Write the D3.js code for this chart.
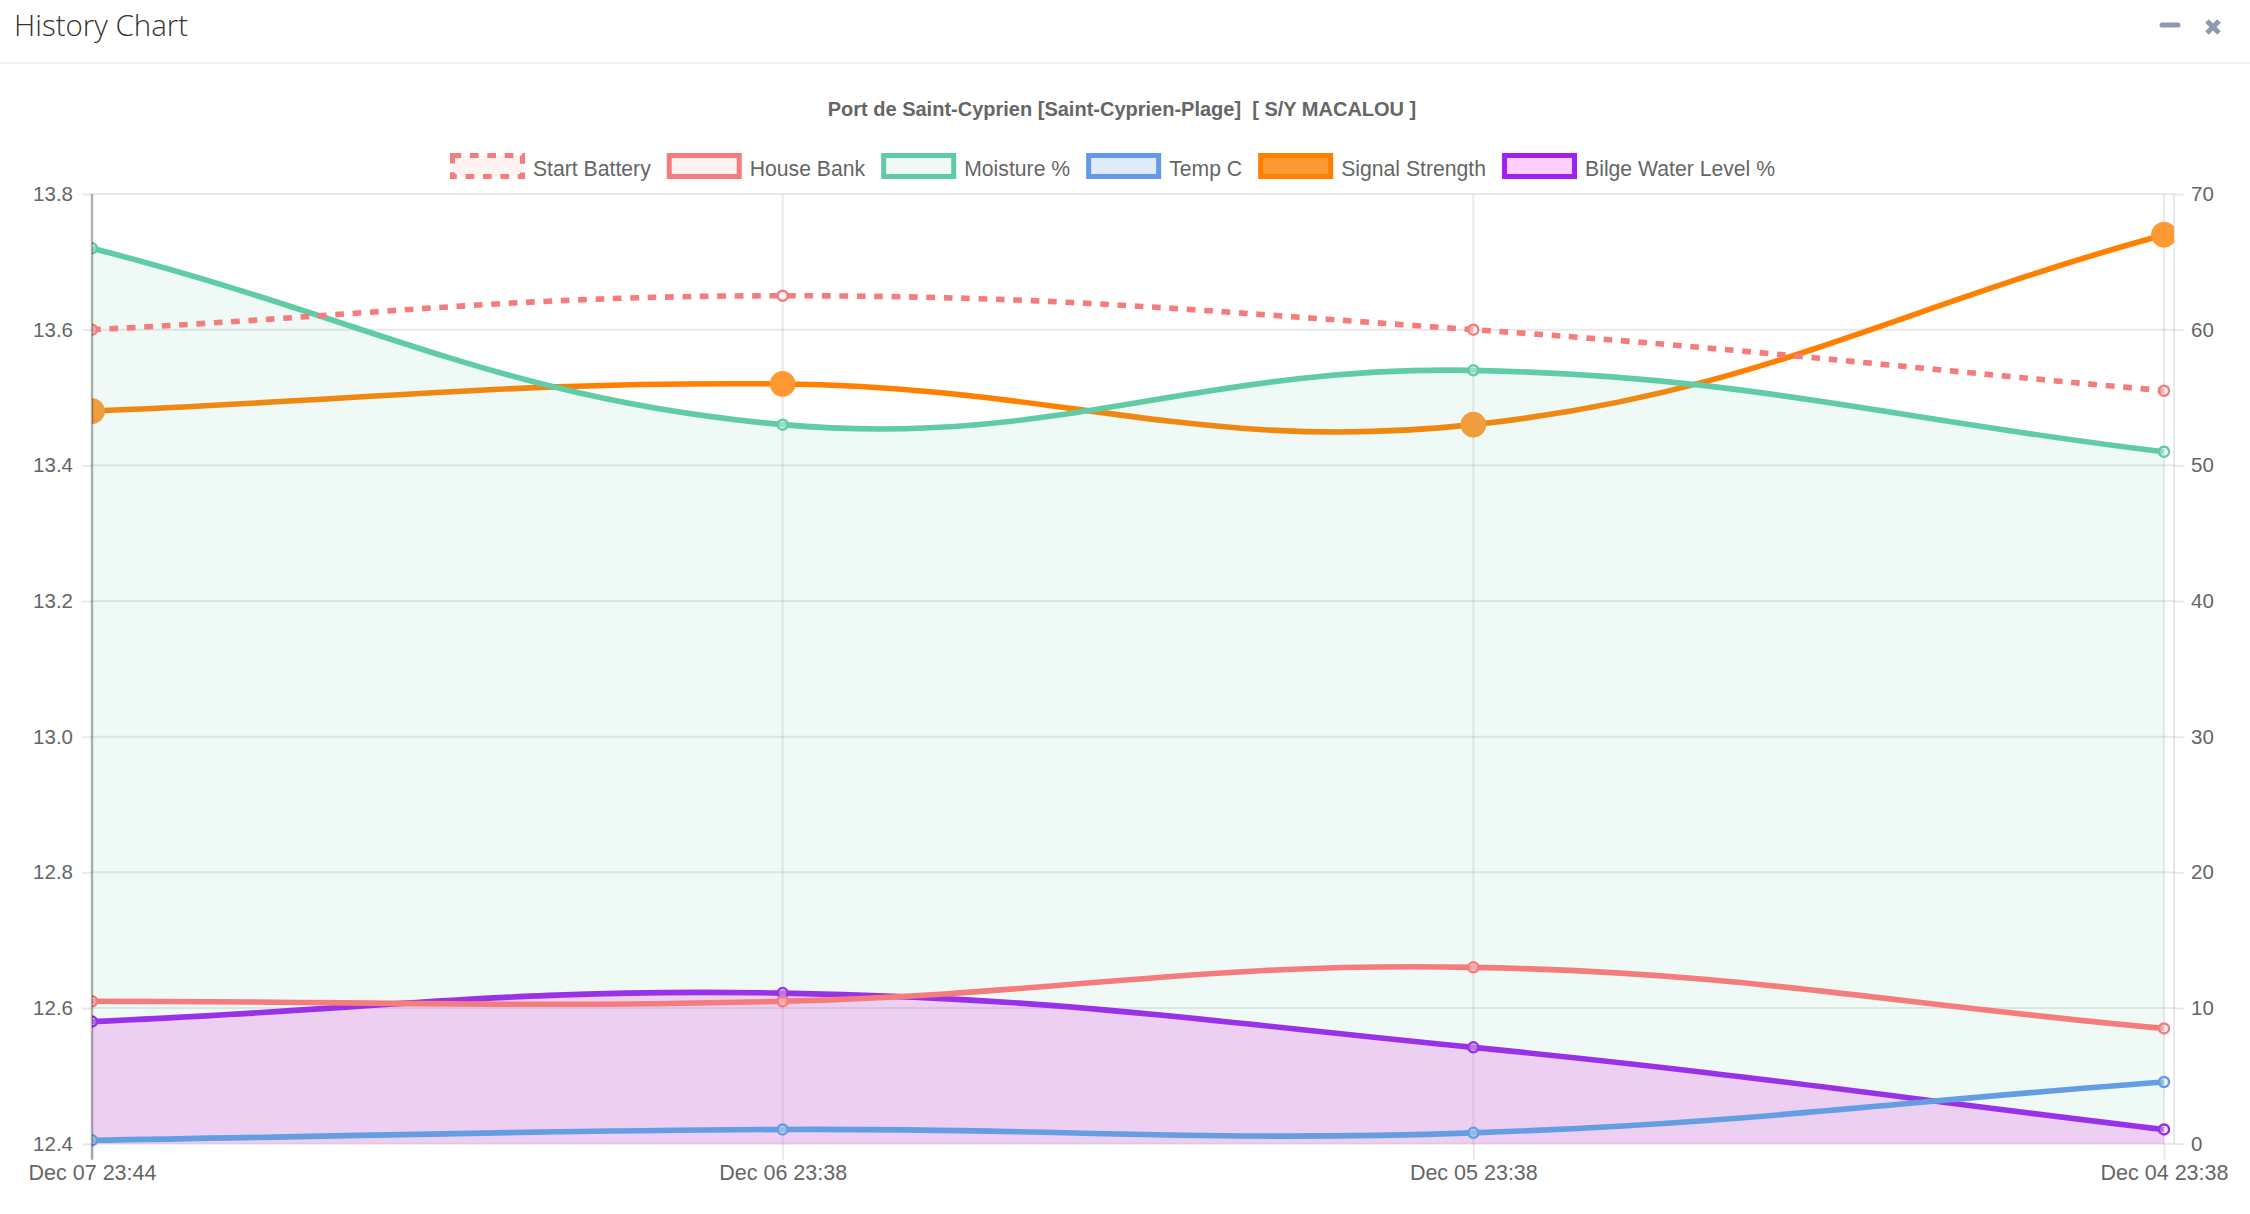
<!DOCTYPE html>
<html>
<head>
<meta charset="utf-8">
<title>History Chart</title>
<script src="https://cdnjs.cloudflare.com/ajax/libs/d3/7.8.5/d3.min.js"></script>
<style>
    html, body { margin: 0; padding: 0; background: #fff; }
    svg { display: block; }
    text { font-family: "Liberation Sans", Arial, sans-serif; fill: #666; }
    .caption { font-family: "Open Sans", sans-serif; font-weight: 300; fill: #333; font-size: 29.5px; }
    .title { font-size: 20px; font-weight: bold; white-space: pre; }
    .legend-label { font-size: 21.2px; }
    .tic text { font-size: 20.5px; }
    .xtic text { font-size: 21.5px; }
    .tic line, .grid-line { stroke: #000; stroke-opacity: 0.085; stroke-width: 2; }
</style>
</head>
<body>
<div id="chart"></div>
<script>
/* Data ************************************************************************/

var dates = ['Dec 07 23:44', 'Dec 06 23:38', 'Dec 05 23:38', 'Dec 04 23:38'];

// left axis
var startBattery = [13.6, 13.65, 13.6, 13.51],
    houseBank = [12.61, 12.61, 12.66, 12.57];

// right axis
var moisture = [66, 53, 57, 51],
    tempC = [0.25, 1.05, 0.8, 4.55],
    signalStrength = [54, 56, 53, 67],
    bilgeWater = [9, 11.1, 7.1, 1.05];

var leftTics = [12.4, 12.6, 12.8, 13.0, 13.2, 13.4, 13.6, 13.8],
    rightTics = [0, 10, 20, 30, 40, 50, 60, 70];

var series = [
    { name: 'Start Battery', values: startBattery, axis: 'left', color: '#f47c7c',
      swatch: 'rgba(244,124,124,0.1)', dash: '8.7 8.7', r: 5 },
    { name: 'House Bank', values: houseBank, axis: 'left', color: '#f47c7c',
      swatch: 'rgba(244,124,124,0.1)', r: 5 },
    { name: 'Moisture %', values: moisture, axis: 'right', color: '#5fcca5',
      swatch: 'rgba(95,204,165,0.1)', area: 'rgba(95,204,165,0.1)', r: 5 },
    { name: 'Temp C', values: tempC, axis: 'right', color: '#6299e8',
      swatch: 'rgba(98,153,232,0.2)', r: 5 },
    { name: 'Signal Strength', values: signalStrength, axis: 'right', color: '#ff8000',
      swatch: '#ff9933', marker: '#ff9933', r: 12.5 },
    { name: 'Bilge Water Level %', values: bilgeWater, axis: 'right', color: '#a020f0',
      swatch: '#ffd0ff', area: 'rgba(240,50,235,0.23)', r: 5 }
];

/* Functions *******************************************************************/

/*
 * Name: Spline
 * Synop: d3 curve doing the bezier smoothing Chart.js does with tension 0.4
 */
function Spline(context) { this._context = context; }

Spline.prototype = {
    areaStart() { this._line = 0; },
    areaEnd() { this._line = NaN; },
    lineStart() { this._pts = []; },
    point(x, y) { this._pts.push([x, y]); },
    lineEnd() {
        let p = this._pts, ctx = this._context, t = 0.4;
        let ctrl = p.map((c, i) => {
            let a = p[Math.max(i - 1, 0)],
                b = p[Math.min(i + 1, p.length - 1)],
                d01 = Math.hypot(c[0] - a[0], c[1] - a[1]),
                d12 = Math.hypot(b[0] - c[0], b[1] - c[1]),
                s01 = d01 / (d01 + d12),
                s12 = d12 / (d01 + d12);
            return { prev: [c[0] - t * s01 * (b[0] - a[0]), c[1] - t * s01 * (b[1] - a[1])],
                     next: [c[0] + t * s12 * (b[0] - a[0]), c[1] + t * s12 * (b[1] - a[1])] };
        });
        if(this._line) ctx.lineTo(p[0][0], p[0][1]);
        else ctx.moveTo(p[0][0], p[0][1]);
        for(let i = 1; i < p.length; i++)
            ctx.bezierCurveTo(ctrl[i-1].next[0], ctrl[i-1].next[1],
                              ctrl[i].prev[0], ctrl[i].prev[1],
                              p[i][0], p[i][1]);
        if(this._line === 1) ctx.closePath();
        this._line = 1 - this._line;
    }
};

function spline(context) { return new Spline(context); }

function build_plot()
{
    let width = 2250,
        height = 1214,
        left = 92,
        right = 2174,
        lastx = 2164,
        top = 194,
        bottom = 1143.7,
        tic_length = 10;

    let svg = d3.select('#chart').append('svg')
        .attr('width', width)
        .attr('height', height);

    // header ////////////////////////////////////////////////////////
    svg.append('text')
        .attr('class', 'caption')
        .attr('x', 14)
        .attr('y', 36)
        .text('History Chart');

    svg.append('line')
        .attr('x1', 0).attr('x2', width)
        .attr('y1', 63).attr('y2', 63)
        .attr('stroke', '#f2f2f2')
        .attr('stroke-width', 2);

    // minimise and close icons
    svg.append('path')
        .attr('d', 'M2162 25H2178')
        .attr('stroke', '#8e9ab0')
        .attr('stroke-width', 5)
        .attr('stroke-linecap', 'round');

    svg.append('path')
        .attr('d', 'M2207 21L2219 33M2219 21L2207 33')
        .attr('stroke', '#8e9ab0')
        .attr('stroke-width', 5);

    svg.append('text')
        .attr('class', 'title')
        .attr('x', 1122)
        .attr('y', 116)
        .attr('text-anchor', 'middle')
        .text('Port de Saint-Cyprien [Saint-Cyprien-Plage]  [ S/Y MACALOU ]');

    // scales ////////////////////////////////////////////////////////
    let x = d3.scalePoint().domain(dates).range([left, lastx]),
        yl = d3.scaleLinear().domain([12.4, 13.8]).range([bottom, top]),
        yr = d3.scaleLinear().domain([0, 70]).range([bottom, top]),
        yof = (s) => s.axis == 'left' ? yl : yr;

    // grid //////////////////////////////////////////////////////////
    let grid = svg.append('g');

    grid.selectAll('line.h').data(leftTics).enter()
        .append('line')
        .attr('class', 'h grid-line')
        .attr('x1', left).attr('x2', right)
        .attr('y1', (d) => yl(d)).attr('y2', (d) => yl(d));

    grid.selectAll('line.v').data(dates.slice(1)).enter()
        .append('line')
        .attr('class', 'v grid-line')
        .attr('x1', (d) => x(d)).attr('x2', (d) => x(d))
        .attr('y1', top).attr('y2', bottom);

    grid.append('line')
        .attr('class', 'grid-line')
        .attr('x1', right).attr('x2', right)
        .attr('y1', top).attr('y2', bottom);

    // axes //////////////////////////////////////////////////////////
    let laxis = svg.append('g')
        .attr('class', 'tic')
        .attr('transform', `translate(${left},0)`)
        .call(d3.axisLeft(yl).tickValues(leftTics).tickFormat(d3.format('.1f'))
                .tickSize(tic_length).tickPadding(9));

    let raxis = svg.append('g')
        .attr('class', 'tic')
        .attr('transform', `translate(${right},0)`)
        .call(d3.axisRight(yr).tickValues(rightTics)
                .tickSize(tic_length).tickPadding(7));

    let xaxis = svg.append('g')
        .attr('class', 'tic xtic')
        .attr('transform', `translate(0,${bottom})`)
        .call(d3.axisBottom(x).tickSize(16).tickPadding(5));

    [laxis, raxis, xaxis].forEach((a) => {
        a.select('.domain').remove();
        a.attr('font-family', null).attr('font-size', null);
        a.selectAll('text').attr('fill', null);
        a.selectAll('line').attr('stroke', null);
    });

    // series ////////////////////////////////////////////////////////
    svg.append('clipPath')
        .attr('id', 'plot-clip')
        .append('rect')
        .attr('x', left).attr('y', top - 20)
        .attr('width', right - left).attr('height', bottom - top + 40);

    let plot = svg.append('g').attr('clip-path', 'url(#plot-clip)');

    // Chart.js paints the first dataset last
    series.slice().reverse().forEach((s) => {
        let y = yof(s),
            rows = s.values.map((v, i) => ({ date: dates[i], value: v })),
            g = plot.append('g');

        if(s.area)
            g.append('path')
                .attr('d', d3.area().curve(spline)
                    .x((d) => x(d.date))
                    .y0(bottom)
                    .y1((d) => y(d.value))(rows))
                .attr('fill', s.area);

        g.append('path')
            .attr('d', d3.line().curve(spline)
                .x((d) => x(d.date))
                .y((d) => y(d.value))(rows))
            .attr('fill', 'none')
            .attr('stroke', s.color)
            .attr('stroke-width', 5.6)
            .attr('stroke-dasharray', s.dash || null);

        g.selectAll('circle').data(rows).enter()
            .append('circle')
            .attr('cx', (d) => x(d.date))
            .attr('cy', (d) => y(d.value))
            .attr('r', s.r)
            .attr('fill', s.marker || 'rgba(255,255,255,0.35)')
            .attr('stroke', s.marker || s.color)
            .attr('stroke-width', s.marker ? 1 : 2.5);
    });

    // the zero line sits above the fills
    svg.append('line')
        .attr('x1', left).attr('x2', left)
        .attr('y1', top).attr('y2', bottom + 16)
        .attr('stroke', '#000')
        .attr('stroke-opacity', 0.3)
        .attr('stroke-width', 2.5);

    // legend ////////////////////////////////////////////////////////
    let legend = svg.append('g'),
        box_w = 75,
        box_h = 26,
        border = 5,
        gap = 8,
        item_gap = 16,
        cursor = 0;

    series.forEach((s) => {
        let item = legend.append('g').attr('transform', `translate(${cursor},153)`);

        item.append('rect')
            .attr('x', border/2).attr('y', border/2)
            .attr('width', box_w - border).attr('height', box_h - border)
            .attr('fill', s.swatch)
            .attr('stroke', s.color)
            .attr('stroke-width', border)
            .attr('stroke-dasharray', s.dash || null);

        let label = item.append('text')
            .attr('class', 'legend-label')
            .attr('x', box_w + gap)
            .attr('y', box_h/2 + 10)
            .text(s.name);

        cursor += box_w + gap + label.node().getComputedTextLength() + item_gap;
    });

    legend.attr('transform', `translate(${1112.5 - (cursor - item_gap)/2},0)`);
}

build_plot();
</script>
</body>
</html>
